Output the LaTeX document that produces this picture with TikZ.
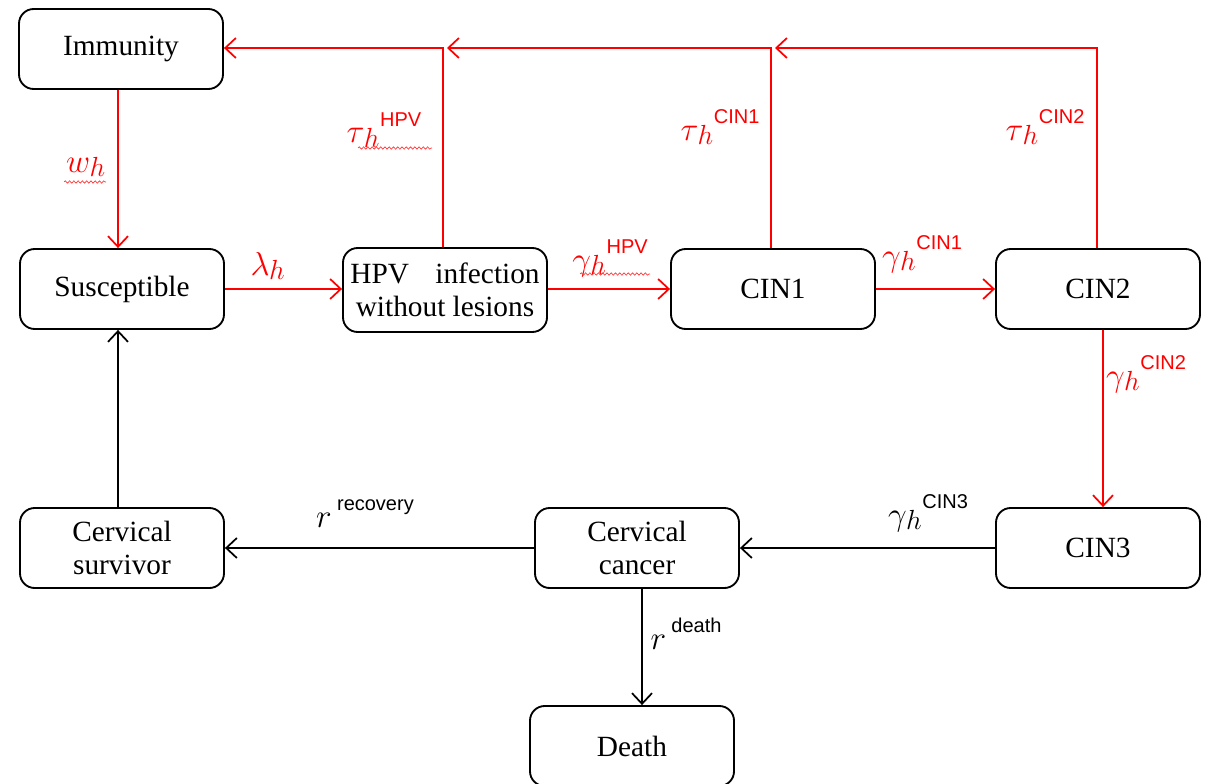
\documentclass[tikz,border=0pt]{standalone}
\usepackage{fontspec}
\setmainfont{Liberation Serif}
\newfontfamily\arialfont{Liberation Sans}
\usetikzlibrary{arrows.meta,decorations.pathmorphing}
% rate symbol with a near full-size, slightly lowered index and a sans superscript
\newcommand{\ratesym}[3]{$#1$\kern-0.5pt\lower3.5pt\hbox{\fontsize{20}{22}\selectfont$#2$}\kern0.5pt\raisebox{1.15ex}{\arialfont\fontsize{15}{17}\selectfont #3}}
\begin{document}
\begin{tikzpicture}[x=0.75pt,y=-0.75pt,
  state/.style={draw=black,line width=1.4pt,rounded corners=11pt,
    minimum width=153pt,minimum height=60pt,inner sep=2pt,align=center,
    font=\fontsize{22}{25}\selectfont},
  flow/.style={line width=1.3pt,-{Straight Barb[length=8pt,width=15pt,line width=1.3pt]}},
  redflow/.style={flow,draw=red},
  rate/.style={font=\fontsize{24}{26}\selectfont},
  redrate/.style={rate,text=red},
  squiggle/.style={draw=red!80,line width=0.5pt,decorate,
    decoration={snake,amplitude=0.9pt,segment length=3.2pt}}]
\clip (0,0) rectangle (1212,784);
\fill[white] (0,0) rectangle (1212,784);

% compartments
\node[state] (imm) at (121,49) {Immunity};
\node[state] (sus) at (122,289) {Susceptible};
\node[state,minimum height=63pt] (hpv) at (445,290) {HPV\hspace{0.9em}infection\\without lesions};
\node[state] (cin1) at (773,289) {CIN1};
\node[state] (cin2) at (1098,289) {CIN2};
\node[state] (cin3) at (1098,548) {CIN3};
\node[state] (can) at (637,548) {Cervical\\cancer};
\node[state] (surv) at (122,548) {Cervical\\survivor};
\node[state] (dth) at (632,746) {Death};

% regression / clearance flows along the top
\coordinate (tHPV) at (443,48);
\coordinate (tC1) at (771,48);
\coordinate (tC2) at (1097,48);
\draw[redflow] (hpv.north -| tHPV) -- (tHPV) -- (imm.east |- tHPV);
\draw[redflow] (cin1.north -| tC1) -- (tC1) -- ([xshift=3pt]tHPV);
\draw[redflow] (cin2.north -| tC2) -- (tC2) -- ([xshift=3pt]tC1);

% progression flows
\draw[redflow] (imm.south -| 118,0) -- (sus.north -| 118,0);
\draw[redflow] (sus.east) -- (hpv.west |- sus.east);
\draw[redflow] (hpv.east |- sus.east) -- (cin1.west |- sus.east);
\draw[redflow] (cin1.east) -- (cin2.west);
\draw[redflow] (cin2.south -| 1103,0) -- (cin3.north -| 1103,0);
\draw[flow] (cin3.west) -- (can.east);
\draw[flow] (can.west) -- (surv.east);
\draw[flow] (can.south -| 642,0) -- (dth.north -| 642,0);
\draw[flow] (surv.north -| 118,0) -- (sus.south -| 118,0);

% rate labels
\node[redrate] (lw) at (86,166) {\ratesym{w}{h}{}};
\node[redrate] (ltau0) at (384,130) {\ratesym{\tau}{h}{HPV}};
\node[redrate] (llam) at (268,266) {\ratesym{\lambda}{h}{}};
\node[redrate] (lgam0) at (610,258) {\ratesym{\gamma}{h}{HPV}};
\node[redrate] (ltau1) at (720,127) {\ratesym{\tau}{h}{CIN1}};
\node[redrate] (ltau2) at (1045,127) {\ratesym{\tau}{h}{CIN2}};
\node[redrate] (lgam1) at (922,254) {\ratesym{\gamma}{h}{CIN1}};
\node[redrate] (lgam2) at (1146,374) {\ratesym{\gamma}{h}{CIN2}};
\node[rate] (lgam3) at (928,513) {\ratesym{\gamma}{h}{CIN3}};
\node[rate] (lrec) at (365,514) {$r$\,\raisebox{1.15ex}{\arialfont\fontsize{15}{17}\selectfont recovery}};
\node[rate] (ldth) at (686,634) {$r$\,\raisebox{1.15ex}{\arialfont\fontsize{15}{17}\selectfont death}};

% proofing squiggles under the symbol labels
\draw[squiggle] (64,182) -- (106,182);
\draw[squiggle] (358,148) -- (432,148);
\draw[squiggle] (580,274) -- (650,274);
\end{tikzpicture}
\end{document}
